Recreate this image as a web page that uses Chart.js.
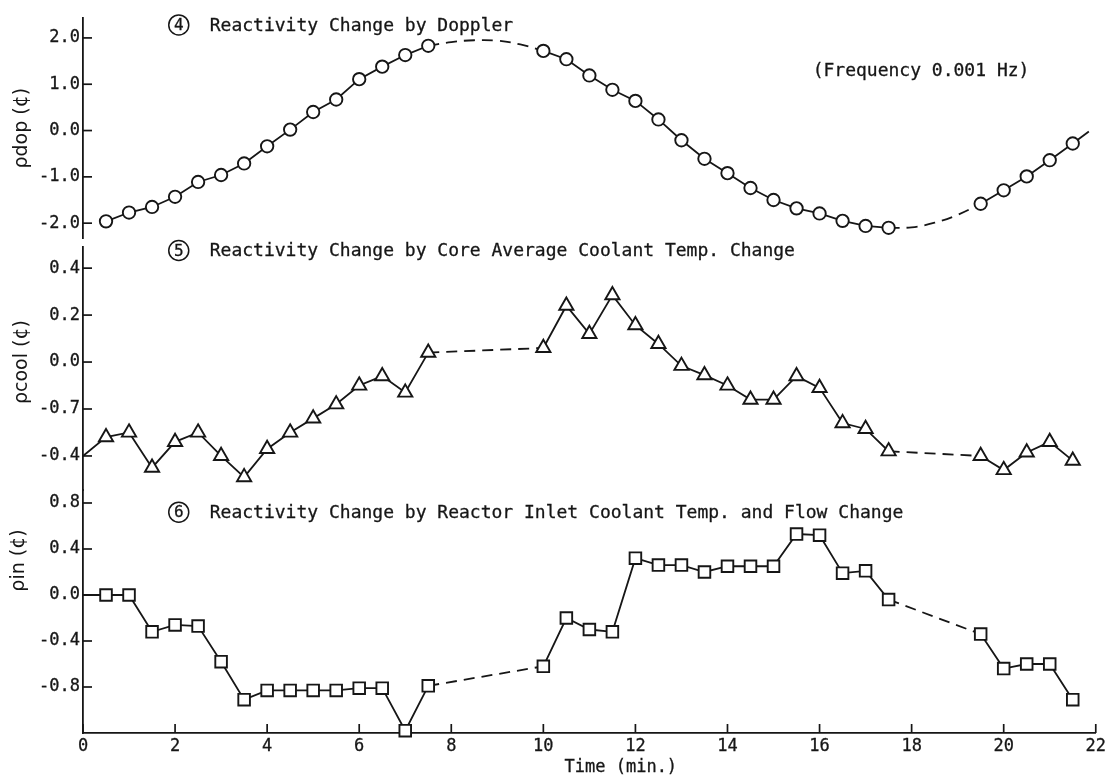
<!DOCTYPE html>
<html>
<head>
<meta charset="utf-8">
<style>
  html, body { margin: 0; padding: 0; background: #ffffff; }
  canvas { display: block; }
</style>
<script src="https://cdn.jsdelivr.net/npm/chart.js@4.4.1/dist/chart.umd.min.js"></script>
</head>
<body>
<canvas id="chart" width="1109" height="783"></canvas>
<script>
// Time axis (min.)
const timeMin = 0;
const timeMax = 22;
const timeStep = 2;

// (4) Reactivity change by Doppler, measured points
const dopTime = [0.5, 1.0, 1.5, 2.0, 2.5, 3.0, 3.5, 4.0, 4.5, 5.0, 5.5, 6.0, 6.5, 7.0, 7.5,
                 10.0, 10.5, 11.0, 11.5, 12.0, 12.5, 13.0, 13.5, 14.0, 14.5, 15.0, 15.5, 16.0, 16.5, 17.0, 17.5,
                 19.5, 20.0, 20.5, 21.0, 21.5];
const dopVal = [-1.96, -1.77, -1.65, -1.43, -1.11, -0.96, -0.71, -0.34, 0.02, 0.40, 0.67, 1.11, 1.38, 1.63, 1.83,
                1.72, 1.54, 1.19, 0.88, 0.64, 0.24, -0.21, -0.61, -0.92, -1.24, -1.50, -1.68, -1.79, -1.95, -2.06, -2.10,
                -1.58, -1.29, -0.99, -0.64, -0.28];
// dashed stretches of the Doppler curve where no points were taken
const dopGap1Time = [7.5, 8.0, 8.5, 9.0, 9.5, 10.0];
const dopGap1Val = [1.83, 1.91, 1.95, 1.94, 1.86, 1.72];
const dopGap2Time = [17.5, 18.0, 18.5, 19.0, 19.5];
const dopGap2Val = [-2.10, -2.09, -1.99, -1.82, -1.58];
// curve continues past the last point
const dopTailTime = [21.5, 21.85];
const dopTailVal = [-0.28, -0.02];

// (5) Reactivity change by core average coolant temperature change
const coolTime = [0.0, 0.5, 1.0, 1.5, 2.0, 2.5, 3.0, 3.5, 4.0, 4.5, 5.0, 5.5, 6.0, 6.5, 7.0, 7.5,
                  10.0, 10.5, 11.0, 11.5, 12.0, 12.5, 13.0, 13.5, 14.0, 14.5, 15.0, 15.5, 16.0, 16.5, 17.0, 17.5,
                  19.5, 20.0, 20.5, 21.0, 21.5];
const coolVal = [-0.40, -0.32, -0.30, -0.45, -0.34, -0.30, -0.40, -0.49, -0.37, -0.30, -0.24, -0.18, -0.10, -0.06, -0.13, 0.04,
                 0.06, 0.24, 0.12, 0.285, 0.157, 0.077, -0.016, -0.056, -0.10, -0.16, -0.16, -0.06, -0.11, -0.26, -0.285, -0.38,
                 -0.40, -0.46, -0.385, -0.34, -0.42];

// (6) Reactivity change by reactor inlet coolant temperature and flow change
const inTime = [0.0, 0.5, 1.0, 1.5, 2.0, 2.5, 3.0, 3.5, 4.0, 4.5, 5.0, 5.5, 6.0, 6.5, 7.0, 7.5,
                10.0, 10.5, 11.0, 11.5, 12.0, 12.5, 13.0, 13.5, 14.0, 14.5, 15.0, 15.5, 16.0, 16.5, 17.0, 17.5,
                19.5, 20.0, 20.5, 21.0, 21.5];
const inVal = [0.00, 0.00, 0.00, -0.32, -0.26, -0.27, -0.58, -0.91, -0.83, -0.83, -0.83, -0.83, -0.81, -0.81, -1.18, -0.79,
               -0.62, -0.20, -0.30, -0.32, 0.32, 0.26, 0.26, 0.20, 0.25, 0.25, 0.25, 0.53, 0.52, 0.19, 0.21, -0.04,
               -0.34, -0.64, -0.60, -0.60, -0.91];

// y tick values and their printed labels
const dopTicks = [2, 1, 0, -1, -2];
const dopTickLabels = ['2.0', '1.0', '0.0', '-1.0', '-2.0'];
const coolTicks = [0.4, 0.2, 0, -0.2, -0.4];
const coolTickLabels = ['0.4', '0.2', '0.0', '-0.7', '-0.4'];
const inTicks = [0.8, 0.4, 0, -0.4, -0.8];
const inTickLabels = ['0.8', '0.4', '0.0', '-0.4', '-0.8'];

// texts
const panelNumbers = ['4', '5', '6'];
const panelTitles = [
  'Reactivity Change by Doppler',
  'Reactivity Change by Core Average Coolant Temp. Change',
  'Reactivity Change by Reactor Inlet Coolant Temp. and Flow Change'
];
const axisTitles = ['\u03C1dop (\u00A2)', '\u03C1cool (\u00A2)', '\u03C1in (\u00A2)'];
const noteText = '(Frequency 0.001 Hz)';
const timeTitle = 'Time (min.)';

// ---------------------------------------------------------------
const ink = '#161616';
const mono = '"DejaVu Sans Mono", "Liberation Mono", monospace';
const sans = '"DejaVu Sans", "Liberation Sans", sans-serif';
const dash = [11, 7];
const textStroke = 0.3;

const pts = (ts, vs) => ts.map((t, i) => ({ x: t, y: vs[i] }));
const isGap = ctx => (ctx.p1.parsed.x - ctx.p0.parsed.x) > 1;
const noMarkAtZero = r => ctx => (ctx.raw && ctx.raw.x === 0 ? 0 : r);

const lineBase = {
  borderColor: ink,
  borderWidth: 1.8,
  pointBorderColor: ink,
  pointBackgroundColor: '#ffffff',
  pointBorderWidth: 1.9,
  tension: 0,
  clip: false,
  spanGaps: false
};

const datasets = [
  Object.assign({}, lineBase, {
    label: 'dop', yAxisID: 'yDop', data: pts(dopTime, dopVal),
    pointStyle: 'circle', pointRadius: 6.2,
    segment: { borderColor: ctx => (isGap(ctx) ? 'rgba(0,0,0,0)' : undefined) }
  }),
  Object.assign({}, lineBase, {
    label: 'dopGap1', yAxisID: 'yDop', data: pts(dopGap1Time, dopGap1Val),
    pointRadius: 0, borderDash: dash, tension: 0.4
  }),
  Object.assign({}, lineBase, {
    label: 'dopGap2', yAxisID: 'yDop', data: pts(dopGap2Time, dopGap2Val),
    pointRadius: 0, borderDash: dash, tension: 0.4
  }),
  Object.assign({}, lineBase, {
    label: 'dopTail', yAxisID: 'yDop', data: pts(dopTailTime, dopTailVal),
    pointRadius: 0
  }),
  Object.assign({}, lineBase, {
    label: 'cool', yAxisID: 'yCool', data: pts(coolTime, coolVal),
    pointStyle: 'triangle', pointRadius: noMarkAtZero(8.2),
    segment: { borderDash: ctx => (isGap(ctx) ? dash : undefined) }
  }),
  Object.assign({}, lineBase, {
    label: 'in', yAxisID: 'yIn', data: pts(inTime, inVal),
    pointStyle: 'rect', pointRadius: noMarkAtZero(8.2),
    segment: { borderDash: ctx => (isGap(ctx) ? dash : undefined) }
  })
];

function yPanel(ticks, labels, min, max, weight, order) {
  return {
    type: 'linear', position: 'left', stack: 'panels', stackWeight: weight, weight: order,
    min: min, max: max,
    afterBuildTicks: s => { s.ticks = ticks.map(v => ({ value: v })); },
    afterFit: s => { s.width = 83; },
    grid: { display: false, drawTicks: false },
    border: { display: true, color: ink, width: 1.8 },
    ticks: {
      autoSkip: false, padding: 3, color: ink,
      textStrokeColor: ink, textStrokeWidth: textStroke,
      font: { family: mono, size: 17 },
      callback: (v, i) => labels[i]
    }
  };
}

// draws text with a light outline so the strokes read a little heavier
function inkText(ctx, s, x, y) {
  ctx.fillText(s, x, y);
  ctx.lineWidth = textStroke;
  ctx.strokeText(s, x, y);
}

const annotations = {
  id: 'annotations',
  afterDraw(chart) {
    const ctx = chart.ctx;
    const xs = chart.scales.x;
    const panelIds = ['yDop', 'yCool', 'yIn'];
    ctx.save();
    ctx.strokeStyle = ink;
    ctx.fillStyle = ink;

    // inward tick marks
    ctx.lineWidth = 1.7;
    panelIds.forEach(id => {
      const s = chart.scales[id];
      s.ticks.forEach(t => {
        const y = s.getPixelForValue(t.value);
        ctx.beginPath(); ctx.moveTo(s.right, y); ctx.lineTo(s.right + 9, y); ctx.stroke();
      });
    });
    xs.ticks.forEach(t => {
      const x = xs.getPixelForValue(t.value);
      ctx.beginPath(); ctx.moveTo(x, xs.top); ctx.lineTo(x, xs.top - 9); ctx.stroke();
    });

    // circled panel numbers and titles
    const titleAt = [
      { id: 'yDop', v: 2.28 },
      { id: 'yCool', v: 0.475 },
      { id: 'yIn', v: 0.72 }
    ];
    const cx = xs.getPixelForValue(2.08);
    titleAt.forEach((p, i) => {
      const cy = chart.scales[p.id].getPixelForValue(p.v);
      ctx.lineWidth = 1.5;
      ctx.beginPath(); ctx.arc(cx, cy, 10, 0, Math.PI * 2); ctx.stroke();
      ctx.font = '16px ' + mono;
      ctx.textAlign = 'center'; ctx.textBaseline = 'middle';
      inkText(ctx, panelNumbers[i], cx, cy + 1);
      ctx.font = '18px ' + mono;
      ctx.textAlign = 'left';
      inkText(ctx, panelTitles[i], cx + 31, cy + 1);
    });

    // frequency note
    ctx.font = '18px ' + mono;
    ctx.textAlign = 'left'; ctx.textBaseline = 'middle';
    inkText(ctx, noteText, xs.getPixelForValue(15.85), chart.scales.yDop.getPixelForValue(1.28));

    // time axis title
    ctx.font = '17px ' + mono;
    ctx.textAlign = 'left'; ctx.textBaseline = 'middle';
    inkText(ctx, timeTitle, xs.getPixelForValue(10.46), xs.top + 35);

    // rotated y titles
    const yTitleAt = [
      { id: 'yDop', v: 0.05, x: 22 },
      { id: 'yCool', v: 0.0, x: 22 },
      { id: 'yIn', v: 0.30, x: 19 }
    ];
    ctx.font = '19px ' + sans;
    ctx.textAlign = 'center'; ctx.textBaseline = 'middle';
    yTitleAt.forEach((p, i) => {
      const y = chart.scales[p.id].getPixelForValue(p.v);
      ctx.save();
      ctx.translate(p.x, y);
      ctx.rotate(-Math.PI / 2);
      ctx.fillText(axisTitles[i], 0, 0);
      ctx.restore();
    });
    ctx.restore();
  }
};

new Chart(document.getElementById('chart'), {
  type: 'line',
  data: { datasets: datasets },
  plugins: [annotations],
  options: {
    responsive: false,
    devicePixelRatio: 1,
    animation: false,
    events: [],
    layout: { padding: { top: 18, right: 12, left: 0, bottom: 0 } },
    plugins: { legend: { display: false }, tooltip: { enabled: false }, title: { display: false } },
    scales: {
      x: {
        type: 'linear', position: 'bottom', min: timeMin, max: timeMax,
        afterFit: s => { s.height = 50; },
        grid: { display: false, drawTicks: false },
        border: { display: true, color: ink, width: 1.8 },
        ticks: {
          stepSize: timeStep, autoSkip: false, padding: 3, color: ink, maxRotation: 0,
          textStrokeColor: ink, textStrokeWidth: textStroke,
          font: { family: mono, size: 17 }
        }
      },
      yDop: yPanel(dopTicks, dopTickLabels, -2.32, 2.43, 220, 4),
      yGap: {
        type: 'linear', position: 'left', stack: 'panels', stackWeight: 9, weight: 3,
        min: 0, max: 1,
        afterFit: s => { s.width = 83; },
        grid: { display: false, drawTicks: false },
        border: { display: false },
        ticks: { display: false }
      },
      yCool: yPanel(coolTicks, coolTickLabels, -0.545, 0.49, 243, 2),
      yIn: yPanel(inTicks, inTickLabels, -1.2, 0.913, 243, 1)
    }
  }
});
</script>
</body>
</html>
